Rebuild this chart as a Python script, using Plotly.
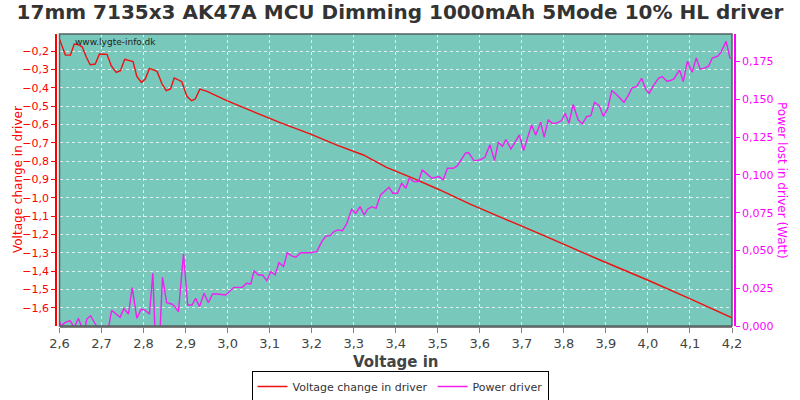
import plotly.graph_objects as go

title_text = "17mm 7135x3 AK47A MCU Dimming 1000mAh 5Mode 10% HL driver"

volt_x = [2.600, 2.614, 2.626, 2.635, 2.646, 2.654, 2.664, 2.673, 2.685, 2.695, 2.713, 2.723,
          2.735, 2.745, 2.755, 2.767, 2.775, 2.784, 2.795, 2.804, 2.814, 2.832, 2.844, 2.854,
          2.864, 2.873, 2.891, 2.903, 2.914, 2.923, 2.934, 2.951, 2.998, 3.061, 3.125, 3.196,
          3.260, 3.323, 3.378, 3.442, 3.505, 3.577, 3.650, 3.743, 3.886, 3.999, 4.098, 4.200]
volt_change = [-0.135, -0.222, -0.222, -0.162, -0.166, -0.177, -0.234, -0.275, -0.271, -0.216,
               -0.218, -0.280, -0.316, -0.307, -0.245, -0.253, -0.258, -0.338, -0.371, -0.353,
               -0.295, -0.311, -0.380, -0.416, -0.407, -0.347, -0.367, -0.447, -0.471, -0.462,
               -0.407, -0.420, -0.471, -0.531, -0.591, -0.652, -0.713, -0.767, -0.835, -0.895,
               -0.958, -1.035, -1.105, -1.198, -1.340, -1.449, -1.549, -1.655]

power_x = [2.600, 2.604, 2.613, 2.625, 2.635, 2.645, 2.653, 2.661, 2.665, 2.674, 2.684, 2.692,
           2.716, 2.724, 2.744, 2.753, 2.764, 2.773, 2.784, 2.794, 2.803, 2.814, 2.822, 2.828,
           2.838, 2.845, 2.855, 2.867, 2.873, 2.883, 2.895, 2.905, 2.915, 2.924, 2.933, 2.944,
           2.954, 2.964, 2.974, 2.995, 3.015, 3.035, 3.045, 3.055, 3.063, 3.073, 3.083, 3.093,
           3.103, 3.113, 3.122, 3.133, 3.142, 3.152, 3.162, 3.174, 3.196, 3.212, 3.224, 3.234,
           3.244, 3.253, 3.262, 3.273, 3.283, 3.295, 3.305, 3.315, 3.325, 3.333, 3.343, 3.353,
           3.364, 3.374, 3.384, 3.393, 3.404, 3.414, 3.424, 3.432, 3.443, 3.454, 3.463, 3.474,
           3.486, 3.503, 3.513, 3.523, 3.537, 3.546, 3.557, 3.566, 3.573, 3.586, 3.600, 3.612,
           3.624, 3.635, 3.644, 3.654, 3.662, 3.674, 3.684, 3.694, 3.704, 3.713, 3.723, 3.733,
           3.745, 3.753, 3.763, 3.772, 3.783, 3.795, 3.803, 3.812, 3.822, 3.834, 3.844, 3.854,
           3.864, 3.873, 3.884, 3.894, 3.904, 3.914, 3.924, 3.943, 3.953, 3.962, 3.973, 3.985,
           3.995, 4.003, 4.013, 4.025, 4.034, 4.045, 4.053, 4.062, 4.075, 4.084, 4.094, 4.105,
           4.115, 4.124, 4.134, 4.144, 4.153, 4.166, 4.174, 4.186, 4.195, 4.200]
power_lost = [0.0029, 0.0000, 0.0022, 0.0035, -0.0010, 0.0051, -0.0010, -0.0010, 0.0046, 0.0068,
              0.0018, -0.0020, -0.0020, 0.0104, 0.0057, 0.0115, 0.0079, 0.0254, 0.0051, 0.0110,
              0.0106, 0.0079, 0.0349, -0.0100, -0.0100, 0.0322, 0.0154, 0.0146, 0.0132, 0.0095,
              0.0477, 0.0139, 0.0139, 0.0183, 0.0128, 0.0217, 0.0154, 0.0212, 0.0212, 0.0205,
              0.0256, 0.0256, 0.0283, 0.0278, 0.0366, 0.0338, 0.0338, 0.0300, 0.0360, 0.0338,
              0.0419, 0.0393, 0.0485, 0.0464, 0.0455, 0.0485, 0.0485, 0.0492, 0.0558, 0.0596,
              0.0598, 0.0625, 0.0636, 0.0631, 0.0675, 0.0773, 0.0746, 0.0790, 0.0735, 0.0773,
              0.0790, 0.0779, 0.0868, 0.0894, 0.0918, 0.0879, 0.0879, 0.0945, 0.0912, 0.0978,
              0.0956, 0.0956, 0.1033, 0.1007, 0.0978, 0.0989, 0.0967, 0.1044, 0.1044, 0.1060,
              0.1110, 0.1144, 0.1148, 0.1095, 0.1099, 0.1117, 0.1199, 0.1095, 0.1217, 0.1190,
              0.1234, 0.1172, 0.1217, 0.1265, 0.1161, 0.1243, 0.1331, 0.1265, 0.1349, 0.1250,
              0.1366, 0.1342, 0.1344, 0.1360, 0.1409, 0.1342, 0.1466, 0.1364, 0.1338, 0.1386,
              0.1393, 0.1481, 0.1459, 0.1389, 0.1437, 0.1558, 0.1536, 0.1481, 0.1525, 0.1576,
              0.1585, 0.1640, 0.1565, 0.1541, 0.1591, 0.1640, 0.1651, 0.1620, 0.1625, 0.1636,
              0.1695, 0.1618, 0.1753, 0.1680, 0.1775, 0.1702, 0.1707, 0.1720, 0.1773, 0.1786,
              0.1813, 0.1885, 0.1773, 0.1773]

x_ticks = [2.6, 2.7, 2.8, 2.9, 3.0, 3.1, 3.2, 3.3, 3.4, 3.5, 3.6, 3.7, 3.8, 3.9, 4.0, 4.1, 4.2]
left_ticks = [-1.6, -1.5, -1.4, -1.3, -1.2, -1.1, -1.0, -0.9, -0.8, -0.7, -0.6, -0.5, -0.4, -0.3, -0.2]
right_ticks = [0.0, 0.025, 0.05, 0.075, 0.1, 0.125, 0.15, 0.175]

FONT = "DejaVu Sans"
RED = "#ff0000"
MAG = "#ff00ff"
GRID = "rgba(255,255,255,0.75)"

fig = go.Figure()
fig.add_trace(go.Scatter(x=volt_x, y=volt_change, mode="lines", name="Voltage change in driver",
                         line=dict(color="#f01010", width=1.4), yaxis="y"))
fig.add_trace(go.Scatter(x=power_x, y=power_lost, mode="lines", name="Power driver",
                         line=dict(color="#f020f0", width=1.4), yaxis="y2"))

ML, MR = 56, 65
W = 800 - ML - MR
fig.update_layout(
    width=800, height=400,
    margin=dict(l=ML, r=MR, t=34, b=74, autoexpand=False),
    paper_bgcolor="white",
    plot_bgcolor="#78c8bc",
    separators=",.",
    font=dict(family=FONT, color="#444444"),
    title=dict(text="<b>" + title_text + "</b>", x=0.5, xanchor="center", y=0.97, yanchor="middle",
               font=dict(family=FONT, size=20, color="#333333")),
    xaxis=dict(domain=[3.5 / W, 676.0 / W], range=[2.6, 4.2], tickvals=x_ticks, tickformat=".1f",
               showgrid=True, gridcolor=GRID, griddash="3px,3px", gridwidth=1,
               showline=True, linecolor="#808080", linewidth=1.5, ticks="outside", ticklen=5,
               tickcolor="#808080", tickfont=dict(size=13, color="#444444"),
               title=dict(text="<b>Voltage in</b>", font=dict(size=15, color="#444444"), standoff=6),
               zeroline=False, anchor="y", automargin=False),
    yaxis=dict(range=[-1.7, -0.107], tickvals=left_ticks, tickformat=".1f",
               anchor="free", position=0, showgrid=True, gridcolor=GRID, griddash="3px,3px",
               showline=True, linecolor=RED, linewidth=1.5, ticks="outside", ticklen=4,
               tickcolor=RED, tickfont=dict(size=11, color=RED), zeroline=False, automargin=False),
    yaxis2=dict(range=[0, 0.1933], tickvals=right_ticks, tickformat=".3f", overlaying="y",
                side="right", anchor="free", position=1, showgrid=False,
                showline=True, linecolor=MAG, linewidth=1.5, ticks="outside", ticklen=4,
                tickcolor=MAG, tickfont=dict(size=11, color=MAG), zeroline=False, automargin=False),
    legend=dict(orientation="h", x=0.5, xanchor="center", xref="container",
                y=1 - 371.0 / 400, yanchor="top", yref="container",
                bordercolor="#000000", borderwidth=1, font=dict(size=11, color="#333333"),
                itemwidth=30, bgcolor="white", tracegroupgap=0),
    showlegend=True,
)

fig.add_shape(type="rect", xref="x domain", yref="y domain", x0=0, x1=1, y0=0, y1=1,
              line=dict(color="#556060", width=1.5), fillcolor="rgba(0,0,0,0)", layer="above")

fig.add_annotation(text="www.lygte-info.dk", xref="x domain", yref="y domain", x=0.02, y=0.995,
                   xanchor="left", yanchor="top", showarrow=False,
                   font=dict(family=FONT, size=9, color="#222222"))
fig.add_annotation(text="Voltage change in driver", xref="paper", yref="paper", x=-38.0 / W, y=0.5,
                   xanchor="center", yanchor="middle", textangle=-90, showarrow=False,
                   font=dict(family=FONT, size=12, color=RED))
fig.add_annotation(text="Power lost in driver (Watt)", xref="paper", yref="paper", x=1 + 47.0 / W, y=0.5,
                   xanchor="center", yanchor="middle", textangle=90, showarrow=False,
                   font=dict(family=FONT, size=12, color=MAG))

fig.write_html("out.html", config={"displayModeBar": False},
               post_script="document.body.style.margin='0';document.body.style.overflow='hidden';")
